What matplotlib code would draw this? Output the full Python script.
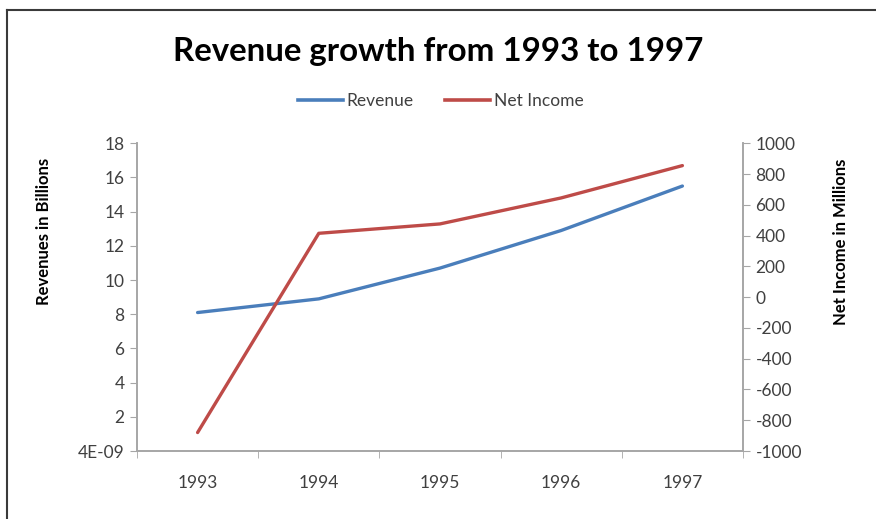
import matplotlib.pyplot as plt
from matplotlib.lines import Line2D

plt.rcParams['font.family'] = ['Lato', 'DejaVu Sans']
plt.rcParams['axes.unicode_minus'] = False

years = ['1993', '1994', '1995', '1996', '1997']
revenue = [8.1, 8.9, 10.7, 12.9, 15.5]          # billions
net_income = [-880, 415, 476, 645, 855]          # millions

rev_ticks = [0, 2, 4, 6, 8, 10, 12, 14, 16, 18]
rev_labels = ['4E-09', '2', '4', '6', '8', '10', '12', '14', '16', '18']
ni_ticks = [-1000, -800, -600, -400, -200, 0, 200, 400, 600, 800, 1000]

blue = '#4a7ebb'
red = '#be4b48'
axis_gray = '#a6a6a6'
text_gray = '#404040'

fig = plt.figure(figsize=(8.76, 5.19), dpi=100)
ax = fig.add_axes([137 / 876, 1 - 451 / 519, (743 - 137) / 876, (451 - 143.3) / 519])
ax2 = ax.twinx()

x = list(range(len(years)))
ax.plot(x, revenue, color=blue, lw=2.4, solid_capstyle='round', label='Revenue')
ax2.plot(x, net_income, color=red, lw=2.4, solid_capstyle='round', label='Net Income')

ax.set_xlim(-0.5, len(years) - 0.5)
ax.set_xticks(x)
ax.set_xticklabels(years)
ax.set_xticks([i - 0.5 for i in range(len(years) + 1)], minor=True)
ax.tick_params(axis='x', which='major', length=0, pad=17, labelsize=12.5, labelcolor=text_gray)
ax.tick_params(axis='x', which='minor', length=5, color=axis_gray, direction='out')

ax.set_ylim(0, 18)
ax.set_yticks(rev_ticks)
ax.set_yticklabels(rev_labels)
ax.tick_params(axis='y', length=5, color=axis_gray, labelsize=12.5, labelcolor=text_gray, pad=4)
ax.set_ylabel('Revenues in Billions', fontsize=12, fontweight='bold')
ax.yaxis.set_label_coords(-0.141, 0.715)

ax2.set_ylim(-1000, 1000)
ax2.set_yticks(ni_ticks)
ax2.tick_params(axis='y', length=5, color=axis_gray, labelsize=12.5, labelcolor=text_gray, pad=4)
ax2.set_ylabel('Net Income in Millions', fontsize=12, fontweight='bold')
ax2.yaxis.set_label_coords(1.148, 0.68)

for a in (ax, ax2):
    a.spines['top'].set_visible(False)
    for s in ('left', 'right', 'bottom'):
        a.spines[s].set_color(axis_gray)
        a.spines[s].set_linewidth(1.2)

fig.text(0.5, 1 - 51 / 519, 'Revenue growth from 1993 to 1997', ha='center', va='center',
         fontsize=23.8, fontweight='bold')

handles = [Line2D([], [], color=blue, lw=2.6), Line2D([], [], color=red, lw=2.6)]
fig.legend(handles, ['Revenue', 'Net Income'], loc='center', bbox_to_anchor=(0.503, 1 - 101 / 519),
           ncol=2, frameon=False, fontsize=12.5, handlelength=2.6, handletextpad=0.2,
           columnspacing=1.8, labelcolor=text_gray)

# chart frame lines along the top and left edge
fig.add_artist(Line2D([7 / 876, 7 / 876], [0, 1 - 10 / 519], color='#3a3a3a', lw=1.5,
                      transform=fig.transFigure))
fig.add_artist(Line2D([7 / 876, 1], [1 - 10 / 519, 1 - 10 / 519], color='#3a3a3a', lw=1.5,
                      transform=fig.transFigure))

fig.savefig('out.png', dpi=100)
